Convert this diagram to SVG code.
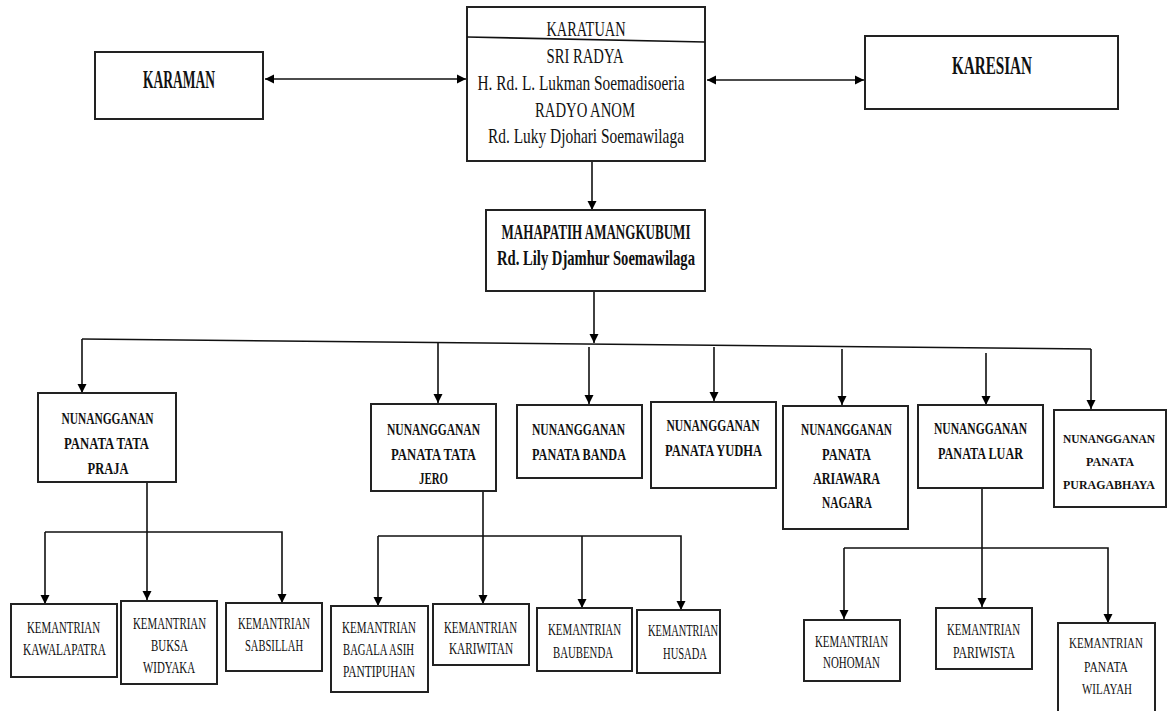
<svg xmlns="http://www.w3.org/2000/svg" width="1167" height="711" viewBox="0 0 1167 711">
<style>
.box{fill:#fff;stroke:#222;stroke-width:2}
.ln{fill:none;stroke:#111;stroke-width:1.6}
text{font-family:"Liberation Serif","Times New Roman",serif;fill:#111;text-anchor:middle}
.t0{font-size:26px;font-weight:bold}
.t1{font-size:21px}
.t2{font-size:21px;font-weight:bold}
.t3{font-size:17.5px;font-weight:bold}
.t3s{font-size:13px;font-weight:bold}
.t4{font-size:16px}
.t4s{font-size:14.5px}
</style>
<defs>
<marker id="ah" viewBox="0 0 10 10" refX="10" refY="5" markerWidth="9" markerHeight="12" markerUnits="userSpaceOnUse" orient="auto">
<path d="M0,0 L10,5 L0,10 Z" fill="#000"/>
</marker>
<marker id="as" viewBox="0 0 10 10" refX="0" refY="5" markerWidth="9" markerHeight="12" markerUnits="userSpaceOnUse" orient="auto">
<path d="M10,0 L0,5 L10,10 Z" fill="#000"/>
</marker>
</defs>

<g id="connectors">
<line class="ln" x1="265" y1="79" x2="466" y2="79" marker-start="url(#as)" marker-end="url(#ah)"/>
<line class="ln" x1="707" y1="80" x2="864" y2="80" marker-start="url(#as)" marker-end="url(#ah)"/>
<line class="ln" x1="592" y1="161" x2="592" y2="210" marker-end="url(#ah)"/>
<line class="ln" x1="594" y1="291" x2="594" y2="343" marker-end="url(#ah)"/>
<line class="ln" x1="82" y1="339" x2="1091" y2="349"/>
<line class="ln" x1="82" y1="339" x2="82" y2="393" marker-end="url(#ah)"/>
<line class="ln" x1="438" y1="343" x2="438" y2="403" marker-end="url(#ah)"/>
<line class="ln" x1="589" y1="347" x2="589" y2="404" marker-end="url(#ah)"/>
<line class="ln" x1="714" y1="347" x2="714" y2="401" marker-end="url(#ah)"/>
<line class="ln" x1="842" y1="349" x2="842" y2="405" marker-end="url(#ah)"/>
<line class="ln" x1="986" y1="353" x2="986" y2="405" marker-end="url(#ah)"/>
<line class="ln" x1="1091" y1="349" x2="1091" y2="409" marker-end="url(#ah)"/>
<line class="ln" x1="147" y1="482" x2="147" y2="600" marker-end="url(#ah)"/>
<polyline class="ln" points="45,532 282,532 282,603" marker-end="url(#ah)"/>
<line class="ln" x1="45" y1="532" x2="45" y2="604" marker-end="url(#ah)"/>
<line class="ln" x1="483" y1="491" x2="483" y2="604" marker-end="url(#ah)"/>
<polyline class="ln" points="378,536 681,536 681,610" marker-end="url(#ah)"/>
<line class="ln" x1="378" y1="536" x2="378" y2="606" marker-end="url(#ah)"/>
<line class="ln" x1="582" y1="536" x2="582" y2="608" marker-end="url(#ah)"/>
<line class="ln" x1="982" y1="488" x2="982" y2="607" marker-end="url(#ah)"/>
<polyline class="ln" points="844,548 1108,548 1108,623" marker-end="url(#ah)"/>
<line class="ln" x1="844" y1="548" x2="844" y2="619" marker-end="url(#ah)"/>
</g>

<g id="karaman">
<rect class="box" x="95" y="52" width="168" height="67"/>
<text class="t0" x="179" y="88" textLength="72" lengthAdjust="spacingAndGlyphs">KARAMAN</text>
</g>

<g id="karatuan">
<rect class="box" x="467" y="7" width="238" height="154"/>
<line class="ln" x1="467" y1="37" x2="705" y2="42"/>
<text class="t1" x="586" y="36" textLength="79" lengthAdjust="spacingAndGlyphs">KARATUAN</text>
<text class="t1" x="585" y="63" textLength="77" lengthAdjust="spacingAndGlyphs">SRI RADYA</text>
<text class="t1" x="581" y="90" textLength="207" lengthAdjust="spacingAndGlyphs">H. Rd. L. Lukman Soemadisoeria</text>
<text class="t1" x="585" y="117" textLength="100" lengthAdjust="spacingAndGlyphs">RADYO ANOM</text>
<text class="t1" x="586" y="143" textLength="196" lengthAdjust="spacingAndGlyphs">Rd. Luky Djohari Soemawilaga</text>
</g>

<g id="karesian">
<rect class="box" x="865" y="36" width="253" height="73"/>
<text class="t0" x="992" y="74" textLength="80" lengthAdjust="spacingAndGlyphs">KARESIAN</text>
</g>

<g id="mahapatih">
<rect class="box" x="486" y="210" width="219" height="81"/>
<text class="t2" x="596" y="239" textLength="189" lengthAdjust="spacingAndGlyphs">MAHAPATIH AMANGKUBUMI</text>
<text class="t2" x="596" y="265" textLength="198" lengthAdjust="spacingAndGlyphs">Rd. Lily Djamhur Soemawilaga</text>
</g>

<g id="praja">
<rect class="box" x="38" y="393" width="138" height="89"/>
<text class="t3" x="107.5" y="424" textLength="92" lengthAdjust="spacingAndGlyphs">NUNANGGANAN</text>
<text class="t3" x="106.5" y="449" textLength="85" lengthAdjust="spacingAndGlyphs">PANATA TATA</text>
<text class="t3" x="108" y="474" textLength="41" lengthAdjust="spacingAndGlyphs">PRAJA</text>
</g>

<g id="jero">
<rect class="box" x="371" y="404" width="125" height="87"/>
<text class="t3" x="433.5" y="435" textLength="93" lengthAdjust="spacingAndGlyphs">NUNANGGANAN</text>
<text class="t3" x="433.5" y="460" textLength="85" lengthAdjust="spacingAndGlyphs">PANATA TATA</text>
<text class="t3" x="433.5" y="484" textLength="29" lengthAdjust="spacingAndGlyphs">JERO</text>
</g>

<g id="banda">
<rect class="box" x="517" y="405" width="125" height="73"/>
<text class="t3" x="578.5" y="435" textLength="93" lengthAdjust="spacingAndGlyphs">NUNANGGANAN</text>
<text class="t3" x="579" y="460" textLength="94" lengthAdjust="spacingAndGlyphs">PANATA BANDA</text>
</g>

<g id="yudha">
<rect class="box" x="651" y="402" width="125" height="86"/>
<text class="t3" x="713" y="431" textLength="93" lengthAdjust="spacingAndGlyphs">NUNANGGANAN</text>
<text class="t3" x="713.5" y="456" textLength="97" lengthAdjust="spacingAndGlyphs">PANATA  YUDHA</text>
</g>

<g id="ariawara">
<rect class="box" x="783" y="406" width="125" height="123"/>
<text class="t3" x="846.5" y="435" textLength="91" lengthAdjust="spacingAndGlyphs">NUNANGGANAN</text>
<text class="t3" x="846.5" y="460" textLength="49" lengthAdjust="spacingAndGlyphs">PANATA</text>
<text class="t3" x="846.5" y="484" textLength="67" lengthAdjust="spacingAndGlyphs">ARIAWARA</text>
<text class="t3" x="847" y="508" textLength="50" lengthAdjust="spacingAndGlyphs">NAGARA</text>
</g>

<g id="luar">
<rect class="box" x="918" y="405" width="125" height="83"/>
<text class="t3" x="980.5" y="434" textLength="93" lengthAdjust="spacingAndGlyphs">NUNANGGANAN</text>
<text class="t3" x="980.5" y="459" textLength="85" lengthAdjust="spacingAndGlyphs">PANATA LUAR</text>
</g>

<g id="puragabhaya">
<rect class="box" x="1054" y="410" width="112" height="97"/>
<text class="t3s" x="1109" y="443" textLength="92" lengthAdjust="spacingAndGlyphs">NUNANGGANAN</text>
<text class="t3s" x="1110" y="466" textLength="48" lengthAdjust="spacingAndGlyphs">PANATA</text>
<text class="t3s" x="1109" y="489" textLength="92" lengthAdjust="spacingAndGlyphs">PURAGABHAYA</text>
</g>

<g id="kawalapatra">
<rect class="box" x="11" y="604" width="106" height="73"/>
<text class="t4" x="63.5" y="633" textLength="73" lengthAdjust="spacingAndGlyphs">KEMANTRIAN</text>
<text class="t4" x="64.5" y="655" textLength="83" lengthAdjust="spacingAndGlyphs">KAWALAPATRA</text>
</g>

<g id="buksa">
<rect class="box" x="121" y="601" width="96" height="83"/>
<text class="t4" x="169.5" y="629" textLength="73" lengthAdjust="spacingAndGlyphs">KEMANTRIAN</text>
<text class="t4" x="169.5" y="651" textLength="37" lengthAdjust="spacingAndGlyphs">BUKSA</text>
<text class="t4" x="169" y="673" textLength="52" lengthAdjust="spacingAndGlyphs">WIDYAKA</text>
</g>

<g id="sabsillah">
<rect class="box" x="226" y="603" width="96" height="68"/>
<text class="t4" x="274" y="629" textLength="72" lengthAdjust="spacingAndGlyphs">KEMANTRIAN</text>
<text class="t4" x="274" y="651" textLength="58" lengthAdjust="spacingAndGlyphs">SABSILLAH</text>
</g>

<g id="bagala">
<rect class="box" x="331" y="606" width="97" height="86"/>
<text class="t4" x="379" y="633" textLength="74" lengthAdjust="spacingAndGlyphs">KEMANTRIAN</text>
<text class="t4" x="378.5" y="655" textLength="71" lengthAdjust="spacingAndGlyphs">BAGALA ASIH</text>
<text class="t4" x="379" y="677" textLength="72" lengthAdjust="spacingAndGlyphs">PANTIPUHAN</text>
</g>

<g id="kariwitan">
<rect class="box" x="433" y="604" width="96" height="61"/>
<text class="t4" x="480.5" y="633" textLength="73" lengthAdjust="spacingAndGlyphs">KEMANTRIAN</text>
<text class="t4" x="481" y="654" textLength="64" lengthAdjust="spacingAndGlyphs">KARIWITAN</text>
</g>

<g id="baubenda">
<rect class="box" x="537" y="608" width="95" height="63"/>
<text class="t4" x="584.5" y="635" textLength="73" lengthAdjust="spacingAndGlyphs">KEMANTRIAN</text>
<text class="t4" x="583" y="658" textLength="60" lengthAdjust="spacingAndGlyphs">BAUBENDA</text>
</g>

<g id="husada">
<rect class="box" x="637" y="610" width="83" height="63"/>
<text class="t4" x="683" y="636" textLength="70" lengthAdjust="spacingAndGlyphs">KEMANTRIAN</text>
<text class="t4" x="685" y="659" textLength="44" lengthAdjust="spacingAndGlyphs">HUSADA</text>
</g>

<g id="nohoman">
<rect class="box" x="804" y="620" width="96" height="61"/>
<text class="t4" x="851.5" y="647" textLength="73" lengthAdjust="spacingAndGlyphs">KEMANTRIAN</text>
<text class="t4" x="851.5" y="668" textLength="57" lengthAdjust="spacingAndGlyphs">NOHOMAN</text>
</g>

<g id="pariwista">
<rect class="box" x="936" y="608" width="96" height="61"/>
<text class="t4" x="983.5" y="635" textLength="73" lengthAdjust="spacingAndGlyphs">KEMANTRIAN</text>
<text class="t4" x="984" y="658" textLength="62" lengthAdjust="spacingAndGlyphs">PARIWISTA</text>
</g>

<g id="wilayah">
<rect class="box" x="1058" y="623" width="97" height="95"/>
<text class="t4s" x="1106" y="648" textLength="74" lengthAdjust="spacingAndGlyphs">KEMANTRIAN</text>
<text class="t4s" x="1106" y="672" textLength="44" lengthAdjust="spacingAndGlyphs">PANATA</text>
<text class="t4s" x="1107" y="694" textLength="50" lengthAdjust="spacingAndGlyphs">WILAYAH</text>
</g>
</svg>
